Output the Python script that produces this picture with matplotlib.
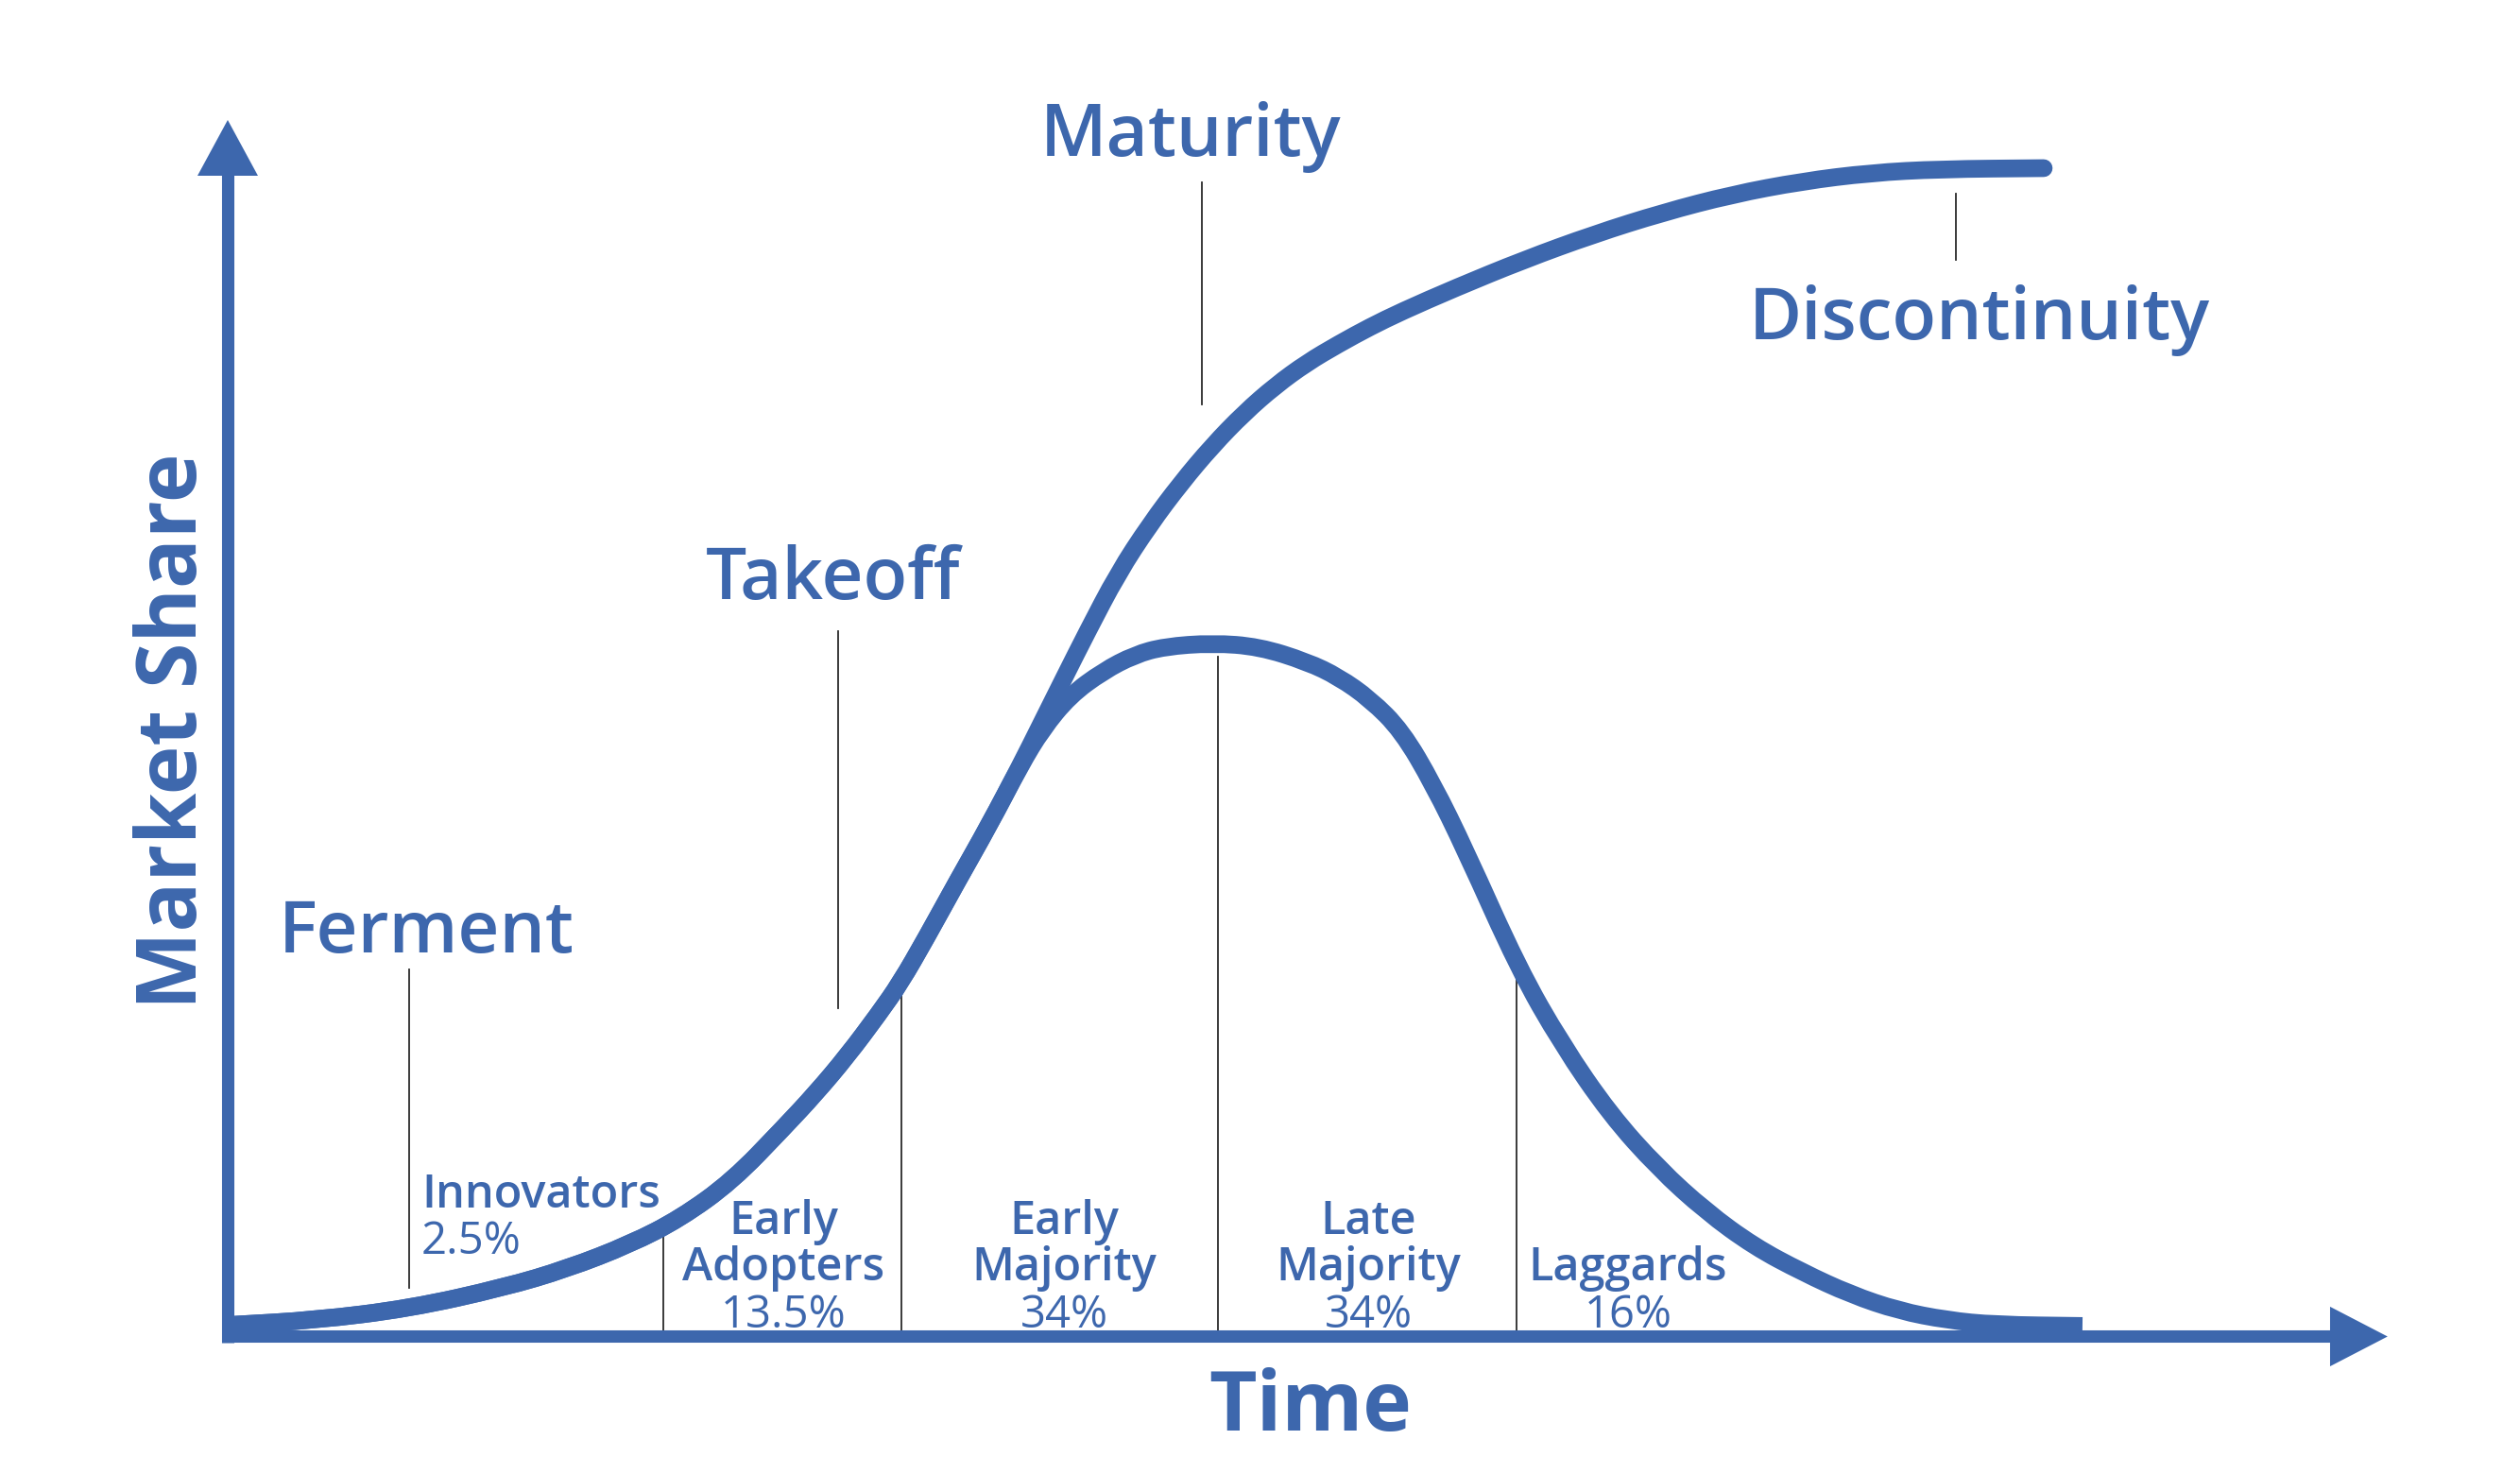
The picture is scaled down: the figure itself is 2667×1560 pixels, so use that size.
import matplotlib
matplotlib.use("Agg")
import matplotlib.pyplot as plt
from matplotlib.path import Path
from matplotlib.patches import PathPatch

plt.rcParams['font.family'] = ['Open Sans', 'DejaVu Sans']

BLUE = '#3d67ad'
GREY = '#2b2b2b'

# adoption (bell) curve, time 0..100, share 0..100
bell_t = [0.3, 4.7, 9.8, 14.9, 18.3, 21.7, 24.4, 27.2, 30.0, 31.7, 33.4, 35.1, 36.27, 37.65,
          39.33, 41.06, 42.74, 43.91, 45.4, 47.2, 48.9, 50.5, 53.1, 55.6, 58.2, 59.9, 61.6,
          63.3, 65.0, 66.73, 69.59, 71.93, 74.53, 77.13, 79.7, 82.3, 84.9, 87.5, 90.1, 92.7,
          95.3, 100.0]
bell_s = [1.0, 1.4, 2.4, 4.2, 5.8, 7.9, 10.1, 13.3, 17.9, 20.8, 24.0, 27.6, 30.26, 34.06,
          38.91, 43.76, 48.85, 51.92, 54.8, 56.9, 58.3, 59.0, 59.3, 59.0, 57.7, 56.4, 54.5,
          51.8, 47.2, 41.6, 31.5, 25.0, 19.0, 14.4, 10.7, 7.7, 5.5, 3.6, 2.2, 1.4,
          1.0, 0.9]

# S-curve: shares the bell's left flank, then this upper branch
split = 17
scurve_t = [43.76, 45.13, 46.31, 47.99, 49.72, 51.4, 53.08, 54.81, 56.5, 58.18, 59.91, 61.59,
            63.27, 66.17, 69.89, 73.66, 77.38, 81.1, 84.87, 88.59, 92.31, 97.91]
scurve_s = [52.08, 56.44, 60.16, 65.25, 69.45, 73.0, 76.16, 78.99, 81.33, 83.27, 84.89, 86.34,
            87.64, 89.66, 92.08, 94.26, 96.12, 97.66, 98.79, 99.52, 99.84, 99.92]

# adopter segments
seg_t = [23.5, 36.3, 53.4, 69.5]
seg_top = [8.7, 29.9, 58.1, 31.5]
seg_names = [["Early", "Adopters"], ["Early", "Majority"], ["Late", "Majority"], ["Laggards"]]
seg_pct = ["13.5%", "34%", "34%", "16%"]
seg_center = [29.95, 45.1, 61.5, 75.5]

# stage labels with their pointer lines
stage_names = ["Ferment", "Takeoff", "Maturity", "Discontinuity"]
stage_xy = [(10.7, 32.85), (32.65, 63.1), (51.9, 101.0), (94.45, 85.3)]
pointer_t = [9.8, 32.9, 52.5, 93.2]
pointer_lo = [4.2, 28.1, 79.7, 92.1]
pointer_hi = [31.4, 60.3, 98.7, 97.7]


def smooth_path(xs, ys):
    # quadratic bezier through the midpoints, the read points act as control points
    pts = list(zip(xs, ys))
    verts = [pts[0]]
    codes = [Path.MOVETO]
    mid = lambda a, b: ((a[0] + b[0]) / 2, (a[1] + b[1]) / 2)
    verts.append(mid(pts[0], pts[1]))
    codes.append(Path.LINETO)
    for i in range(1, len(pts) - 1):
        verts += [pts[i], mid(pts[i], pts[i + 1])]
        codes += [Path.CURVE3, Path.CURVE3]
    verts.append(pts[-1])
    codes.append(Path.LINETO)
    return Path(verts, codes)


fig = plt.figure(figsize=(26.67, 15.6), dpi=100)
ax = fig.add_axes([0, 0, 1, 1])
ax.set_xlim(-12.277, 123.59)
ax.set_ylim(-11.758, 114.30)
ax.axis('off')

# axes with arrow heads
ax.plot([0, 0], [-0.5, 99.4], color=BLUE, lw=9.4, solid_capstyle='butt')
ax.fill([-1.63, 1.63, 0], [99.27, 99.27, 104.04], color=BLUE, lw=0)
ax.plot([-0.3, 113.5], [0, 0], color=BLUE, lw=9.4, solid_capstyle='butt')
ax.fill([113.35, 113.35, 116.45], [-2.55, 2.55, 0], color=BLUE, lw=0)

# thin marker lines
for t, top in zip(seg_t, seg_top):
    ax.plot([t, t], [0, top], color=GREY, lw=1.3, zorder=1)
for t, lo, hi in zip(pointer_t, pointer_lo, pointer_hi):
    ax.plot([t, t], [lo, hi], color=GREY, lw=1.3, zorder=1)

# curves
s_patch = PathPatch(smooth_path(bell_t[:split] + scurve_t, bell_s[:split] + scurve_s),
                    fill=False, edgecolor=BLUE, lw=13.5, capstyle='round',
                    joinstyle='round', zorder=3)
b_patch = PathPatch(smooth_path(bell_t, bell_s), fill=False, edgecolor=BLUE, lw=13.5,
                    capstyle='butt', joinstyle='round', zorder=3)
ax.add_patch(s_patch)
ax.add_patch(b_patch)

# stage labels
for name, (x, y) in zip(stage_names, stage_xy):
    ax.text(x, y, name, color=BLUE, fontsize=55, fontweight='semibold',
            ha='center', va='baseline', zorder=4)

# segment labels
rows = [8.77, 4.81, 0.77]
for names, pct, xc in zip(seg_names, seg_pct, seg_center):
    start = 3 - len(names) - 1
    for i, nm in enumerate(names):
        ax.text(xc, rows[start + i], nm, color=BLUE, fontsize=35, fontweight='semibold',
                ha='center', va='baseline', zorder=4)
    ax.text(xc, rows[2], pct, color=BLUE, fontsize=34, ha='center', va='baseline', zorder=4)

ax.text(10.44, 11.03, "Innovators", color=BLUE, fontsize=35, fontweight='semibold',
        ha='left', va='baseline', zorder=4)
ax.text(10.44, 7.07, "2.5%", color=BLUE, fontsize=34, ha='left', va='baseline', zorder=4)

# axis titles
ax.text(-1.68, 51.76, "Market Share", color=BLUE, fontsize=63, fontweight='bold',
        rotation=90, rotation_mode='anchor', ha='center', va='baseline')
ax.text(58.38, -8.04, "Time", color=BLUE, fontsize=63, fontweight='bold',
        ha='center', va='baseline')

fig.savefig("out.png", dpi=100, facecolor='white')
